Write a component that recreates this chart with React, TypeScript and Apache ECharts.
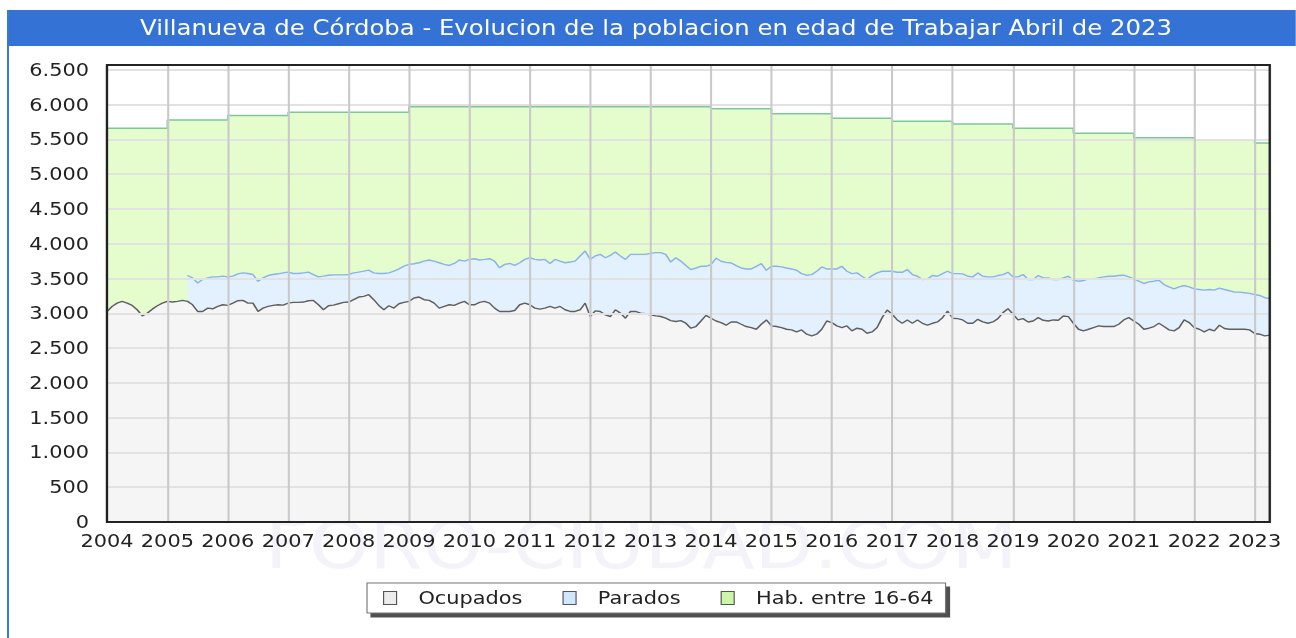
import React, { useEffect, useRef } from "react";
import * as echarts from "echarts";

// The reference is rendered slightly stretched horizontally; reproduce with a scaleX.
const S = 1.16;
const W = 1296 / S;
const H = 638;
const px = (x: number) => x / S;

const FONT = "DejaVu Sans";
const TITLE = "Villanueva de Córdoba - Evolucion de la poblacion en edad de Trabajar Abril de 2023";
const WATERMARK = "FORO-CIUDAD.COM";

const START_YEAR = 2004;
const END_X = 2023.25; // April 2023

const habYears = [2004, 2005, 2006, 2007, 2008, 2009, 2010, 2011, 2012, 2013, 2014, 2015, 2016, 2017, 2018, 2019, 2020, 2021, 2022, 2023];
const habValues = [5660, 5780, 5845, 5890, 5890, 5970, 5970, 5970, 5970, 5970, 5940, 5870, 5805, 5760, 5720, 5660, 5590, 5525, 5495, 5450];

// monthly values, Jan 2004 .. Apr 2023
const ocupados = [
  3027, 3099, 3147, 3172, 3147, 3114, 3051, 2964, 3003, 3060, 3109, 3147,
  3172, 3162, 3172, 3186, 3172, 3123, 3027, 3027, 3075, 3065, 3099, 3123,
  3114, 3147, 3181, 3186, 3147, 3147, 3027, 3075, 3099, 3114, 3123, 3118,
  3147, 3157, 3157, 3162, 3181, 3186, 3123, 3051, 3109, 3118, 3138, 3157,
  3162, 3196, 3234, 3244, 3268, 3196, 3114, 3051, 3109, 3075, 3138, 3157,
  3172, 3220, 3234, 3196, 3186, 3147, 3075, 3099, 3123, 3114, 3147, 3172,
  3123, 3123, 3157, 3172, 3147, 3075, 3027, 3027, 3027, 3041, 3123, 3147,
  3123, 3075, 3060, 3075, 3099, 3075, 3099, 3051, 3027, 3027, 3051, 3147,
  2954, 3036, 3027, 2978, 2954, 3051, 3003, 2930, 3027, 3027, 3003, 2993,
  2978, 2964, 2954, 2930, 2896, 2882, 2896, 2858, 2786, 2810, 2890, 2971,
  2929, 2890, 2867, 2829, 2876, 2876, 2843, 2810, 2795, 2771, 2843, 2905,
  2819, 2810, 2795, 2771, 2762, 2733, 2762, 2700, 2676, 2700, 2771, 2890,
  2867, 2819, 2795, 2819, 2748, 2786, 2771, 2714, 2733, 2795, 2938, 3048,
  2986, 2905, 2857, 2905, 2857, 2905, 2857, 2829, 2857, 2876, 2938, 3033,
  2929, 2924, 2905, 2857, 2857, 2914, 2876, 2857, 2876, 2924, 3010, 3067,
  2986, 2905, 2924, 2876, 2890, 2938, 2900, 2890, 2905, 2900, 2962, 2952,
  2857, 2771, 2748, 2771, 2795, 2819, 2810, 2810, 2810, 2843, 2905, 2938,
  2890, 2843, 2771, 2786, 2810, 2857, 2810, 2762, 2748, 2795, 2905, 2867,
  2795, 2771, 2733, 2771, 2748, 2829, 2781, 2771, 2771, 2771, 2771, 2762,
  2710, 2700, 2676, 2686,
];

const parados: (number | null)[] = [
  null, null, null, null, null, null, null, null, null, null, null, null,
  null, null, null, null, 371, 387, 410, 459, 435, 459, 425, 411,
  410, 387, 387, 396, 425, 411, 434, 435, 444, 444, 445, 464,
  445, 415, 415, 420, 411, 372, 401, 483, 439, 435, 415, 396,
  396, 386, 358, 362, 353, 386, 458, 521, 473, 531, 502, 522,
  531, 493, 493, 555, 580, 604, 652, 604, 565, 603, 619, 579,
  652, 662, 609, 603, 638, 676, 628, 676, 690, 647, 604, 628,
  676, 700, 706, 700, 618, 700, 652, 676, 710, 724, 773, 749,
  821, 788, 821, 821, 879, 831, 821, 845, 821, 821, 845, 855,
  884, 908, 918, 918, 841, 917, 855, 830, 843, 842, 786, 705,
  771, 905, 881, 904, 848, 810, 809, 828, 843, 905, 871, 714,
  857, 866, 872, 881, 876, 886, 809, 848, 881, 905, 896, 748,
  771, 819, 881, 786, 823, 795, 762, 772, 810, 786, 667, 557,
  619, 685, 733, 724, 700, 628, 629, 666, 686, 657, 633, 572,
  642, 647, 662, 676, 667, 667, 657, 667, 648, 619, 547, 523,
  538, 619, 633, 610, 596, 605, 610, 620, 581, 586, 548, 581,
  619, 691, 723, 724, 700, 691, 714, 723, 723, 700, 643, 586,
  605, 619, 658, 666, 652, 619, 604, 619, 604, 586, 495, 514,
  557, 572, 600, 572, 585, 533, 562, 553, 534, 534, 524, 524,
  561, 557, 548, 528,
];

const fmtThousands = (v: number) => String(v).replace(/\B(?=(\d{3})+(?!\d))/g, ".");

export default function App() {
  const ref = useRef<HTMLDivElement>(null);

  useEffect(() => {
    if (!ref.current) return;
    const chart = echarts.init(ref.current, null, { renderer: "svg" });

    const monthX = ocupados.map((_, i) => START_YEAR + i / 12);
    const ocupadosData = monthX.map((x, i) => [x, ocupados[i]]);
    // top of the "Parados" band = ocupados + parados
    const paradosTop = monthX.map((x, i) => [x, parados[i] == null ? null : ocupados[i] + (parados[i] as number)]);
    const habData = habYears.map((y, i) => [y, habValues[i]]);
    habData.push([END_X, habValues[habValues.length - 1]]);

    const option: any = {
      animation: false,
      textStyle: { fontFamily: FONT },
      grid: {
        left: px(107),
        right: px(1296 - 1270),
        top: 65,
        bottom: H - 522,
        show: true,
        backgroundColor: "transparent",
        borderColor: "#222",
        borderWidth: 2,
        containLabel: false,
        outerBoundsMode: "none",
        z: 6,
      },
      xAxis: {
        type: "value",
        min: START_YEAR,
        max: END_X,
        interval: 1,
        z: 3,
        axisLine: { show: false },
        axisTick: { show: false },
        splitLine: { show: true, lineStyle: { color: "#c9c9c9", width: 1.8 } },
        axisLabel: {
          show: true,
          showMaxLabel: false,
          fontSize: 18,
          fontFamily: FONT,
          color: "#222",
          margin: 10,
          formatter: (v: number) => String(v),
        },
      },
      yAxis: {
        type: "value",
        min: 0,
        max: 6570,
        interval: 500,
        z: 3,
        axisLine: { show: false },
        axisTick: { show: false },
        splitLine: { show: true, lineStyle: { color: "#e2e2e2", width: 2 } },
        axisLabel: {
          show: true,
          showMaxLabel: false,
          fontSize: 18,
          fontFamily: FONT,
          color: "#222",
          margin: px(18),
          formatter: (v: number) => fmtThousands(v),
        },
      },
      legend: {
        left: px(367),
        top: 583,
        orient: "horizontal",
        selectedMode: false,
        padding: [6, px(12), 6, px(16)],
        itemGap: px(40),
        itemWidth: px(13),
        itemHeight: 13,
        icon: "rect",
        backgroundColor: "#ffffff",
        borderColor: "#777",
        borderWidth: 1,
        borderRadius: 0,
        shadowColor: "rgba(70,70,70,0.95)",
        shadowBlur: 0,
        shadowOffsetX: px(4),
        shadowOffsetY: 4,
        textStyle: { fontSize: 18, color: "#222", fontFamily: FONT, padding: [0, 0, 0, px(16)] },
        data: [
          { name: "Ocupados", itemStyle: { color: "#ececec", borderColor: "#555", borderWidth: 1 } },
          { name: "Parados", itemStyle: { color: "#cfe8fb", borderColor: "#555", borderWidth: 1 } },
          { name: "Hab. entre 16-64", itemStyle: { color: "#cdf6a8", borderColor: "#555", borderWidth: 1 } },
        ],
      },
      graphic: [
        {
          type: "rect",
          shape: { x: px(8), y: 10, width: px(1296 - 8), height: 36 },
          style: { fill: "#3473d5" },
          z: 0,
        },
        {
          type: "rect",
          shape: { x: px(7), y: 10, width: px(2), height: H - 10 },
          style: { fill: "#3a78d8" },
          z: 0,
        },
        {
          type: "text",
          x: px(656),
          y: 28,
          style: {
            text: TITLE,
            fill: "#ffffff",
            fontSize: 21,
            fontFamily: FONT,
            align: "center",
            verticalAlign: "middle",
          },
          z: 1,
        },
        {
          type: "text",
          x: px(265),
          y: 512,
          style: { text: WATERMARK, fill: "#f3f3f9", fontSize: 66, fontFamily: FONT },
          z: 0,
        },
      ],
      series: [
        {
          name: "Hab. entre 16-64",
          type: "line",
          step: "end",
          data: habData,
          symbol: "none",
          z: 1,
          itemStyle: { color: "#cdf6a8" },
          lineStyle: { color: "#7fc69b", width: 1.5 },
          areaStyle: { color: "#e5fdcc", opacity: 1 },
        },
        {
          name: "Parados",
          type: "line",
          data: paradosTop,
          symbol: "none",
          connectNulls: false,
          z: 2,
          itemStyle: { color: "#cfe8fb" },
          lineStyle: { color: "#8ab2ec", width: 1.4 },
          areaStyle: { color: "#e3f1fe", opacity: 1 },
        },
        {
          name: "Ocupados",
          type: "line",
          data: ocupadosData,
          symbol: "none",
          z: 2.5,
          itemStyle: { color: "#ececec" },
          lineStyle: { color: "#5f5f5f", width: 1.4 },
          areaStyle: { color: "#f5f5f5", opacity: 1 },
        },
      ],
    };

    chart.setOption(option);
    return () => chart.dispose();
  }, []);

  return (
    <div
      ref={ref}
      style={{
        position: "absolute",
        left: 0,
        top: 0,
        width: W,
        height: H,
        transform: `scaleX(${S})`,
        transformOrigin: "0 0",
        background: "#ffffff",
      }}
    />
  );
}
